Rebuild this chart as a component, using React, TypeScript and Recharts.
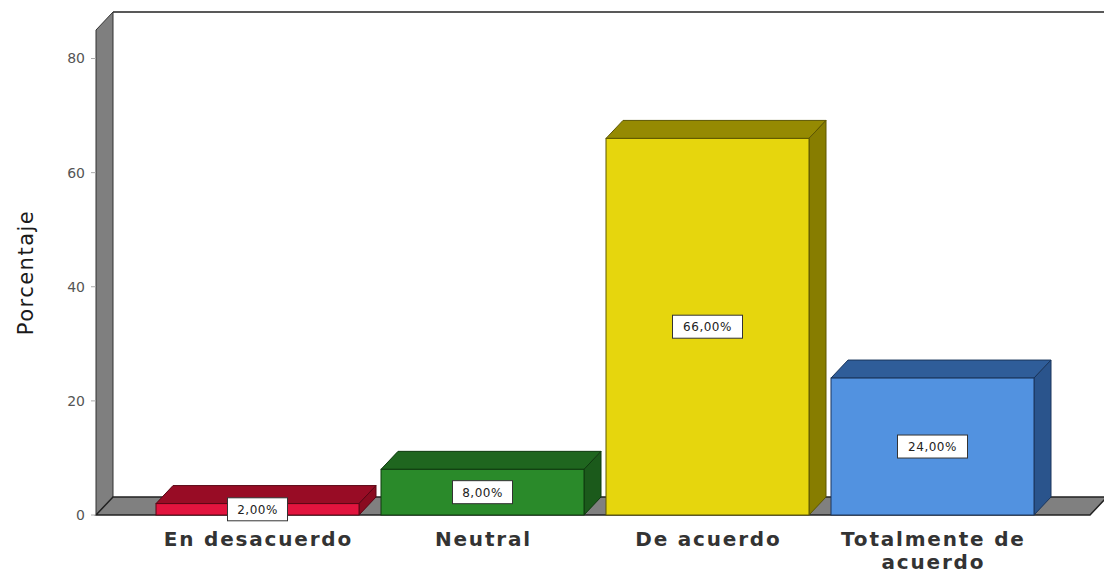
import React from 'react';
import { BarChart, Bar, XAxis, YAxis, ReferenceArea, LabelList } from 'recharts';

// categorías y porcentajes
const categories = ['En desacuerdo', 'Neutral', 'De acuerdo', 'Totalmente de acuerdo'];
const percentages = [2, 8, 66, 24];
const yTicks = [0, 20, 40, 60, 80];
const tickLines: Record<string, string[]> = {
  'Totalmente de acuerdo': ['Totalmente de', 'acuerdo'],
};

const frontColors = ['#e2143e', '#2a8a2a', '#e6d60d', '#5292e0'];
const topColors = ['#980c25', '#1f661f', '#958a02', '#2f5d99'];
const sideColors = ['#8a0b20', '#1b5a1b', '#877d00', '#2a548c'];
const edgeColors = ['#5a0614', '#0f3a0f', '#5d5600', '#1a355c'];

const DX = 17;
const DY = 18;
const PAD_LEFT = 49;
const PAD_RIGHT = 45;
const FONT = '"DejaVu Sans", Verdana, sans-serif';

const chartData = categories.map((name, i) => ({ name, value: percentages[i] }));

const Bar3D = (props: any) => {
  const { x, y, width, height, index } = props;
  const edge = edgeColors[index];
  return (
    <g>
      <polygon
        points={`${x},${y} ${x + DX},${y - DY} ${x + width + DX},${y - DY} ${x + width},${y}`}
        fill={topColors[index]}
        stroke={edge}
        strokeWidth={1}
      />
      <polygon
        points={`${x + width},${y} ${x + width + DX},${y - DY} ${x + width + DX},${y + height - DY} ${x + width},${y + height}`}
        fill={sideColors[index]}
        stroke={edge}
        strokeWidth={1}
      />
      <rect x={x} y={y} width={width} height={height} fill={frontColors[index]} stroke={edge} strokeWidth={1} />
    </g>
  );
};

// pared trasera, pared izquierda y suelo
const Walls = (props: any) => {
  const { x, y, width, height } = props;
  const L = x - PAD_LEFT;
  const R = x + width + PAD_RIGHT;
  const T = y;
  const B = y + height;
  return (
    <g>
      <rect x={L + DX} y={T - DY} width={R - L} height={B - T} fill="#ffffff" />
      <line x1={L + DX} y1={T - DY} x2={R + DX} y2={T - DY} stroke="#222" strokeWidth={1.5} />
      <polygon
        points={`${L},${T} ${L + DX},${T - DY} ${L + DX},${B - DY} ${L},${B}`}
        fill="#7f7f7f"
        stroke="#333"
        strokeWidth={1}
      />
      <polygon
        points={`${L},${B} ${L + DX},${B - DY} ${R + DX},${B - DY} ${R},${B}`}
        fill="#808080"
        stroke="#222"
        strokeWidth={1.5}
      />
    </g>
  );
};

const ValueLabel = (props: any) => {
  const { x, y, width, height, value } = props;
  const text = `${Number(value).toFixed(2).replace('.', ',')}%`;
  const cx = x + width / 2;
  const cy = y + height / 2;
  const w = text.length * 10 + 10;
  const h = 23;
  return (
    <g>
      <rect x={cx - w / 2} y={cy - h / 2} width={w} height={h} fill="#ffffff" stroke="#333" strokeWidth={1} />
      <text
        x={cx}
        y={cy + 4.5}
        textAnchor="middle"
        fontFamily={FONT}
        fontSize={12}
        letterSpacing={0.5}
        fill="#222"
      >
        {text}
      </text>
    </g>
  );
};

const CategoryTick = (props: any) => {
  const { x, y, payload } = props;
  const lines = tickLines[payload.value] || [payload.value];
  return (
    <text
      x={x}
      y={y + 31}
      textAnchor="middle"
      fontFamily={FONT}
      fontSize={20}
      fontWeight="bold"
      letterSpacing={1.8}
      fill="#333"
    >
      {lines.map((line, i) => (
        <tspan key={line} x={x + 0.9} dy={i === 0 ? 0 : 23}>
          {line}
        </tspan>
      ))}
    </text>
  );
};

const YLabel = (props: any) => {
  const { viewBox } = props;
  const cx = 26;
  const cy = viewBox.y + viewBox.height / 2;
  return (
    <text
      x={cx}
      y={cy}
      transform={`rotate(-90, ${cx}, ${cy})`}
      textAnchor="middle"
      dominantBaseline="central"
      fontFamily={FONT}
      fontSize={21}
      letterSpacing={1.5}
      fill="#1a1a1a"
    >
      Porcentaje
    </text>
  );
};

const App: React.FC = () => {
  return (
    <div style={{ position: 'absolute', left: 0, top: 0, background: '#fff' }}>
      <BarChart
        width={1104}
        height={575}
        data={chartData}
        margin={{ top: 30, right: 14, left: 0, bottom: 0 }}
        barCategoryGap={11}
      >
        <XAxis
          dataKey="name"
          height={60}
          padding={{ left: PAD_LEFT, right: PAD_RIGHT }}
          axisLine={false}
          tickLine={false}
          tickSize={0}
          tickMargin={0}
          interval={0}
          tick={<CategoryTick />}
        />
        <YAxis
          width={96}
          domain={[0, 85]}
          ticks={yTicks}
          axisLine={false}
          tickSize={5}
          tickMargin={6}
          tickLine={{ stroke: '#aaa' }}
          tick={{ fill: '#555', fontSize: 14, fontFamily: FONT }}
          label={{ content: <YLabel /> }}
        />
        <ReferenceArea y1={0} y2={85} ifOverflow="visible" shape={<Walls />} />
        <Bar dataKey="value" isAnimationActive={false} shape={<Bar3D />}>
          <LabelList dataKey="value" content={<ValueLabel />} />
        </Bar>
      </BarChart>
    </div>
  );
};

export default App;
